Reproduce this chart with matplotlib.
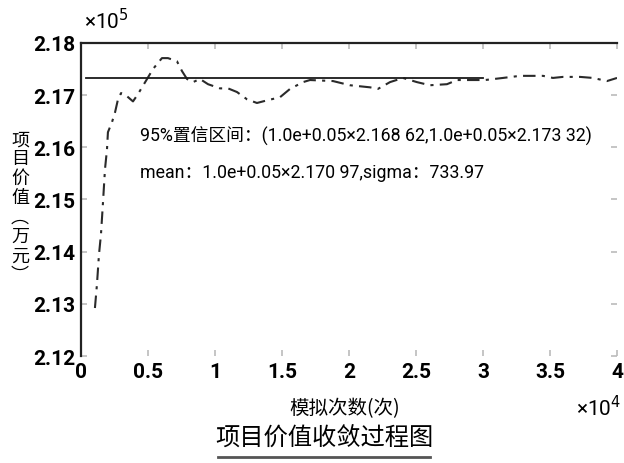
import numpy as np
import matplotlib
matplotlib.use('Agg')
import matplotlib.pyplot as plt

# 模拟次数 与 项目价值(万元) —— 近似值
n_iter = [1040, 1190, 1340, 1490, 1640, 1790, 1940, 2010, 2310, 2540,
          2760, 2990, 3430, 3880, 4250, 4930, 5370, 6040, 6490, 7160,
          7540, 7910, 8360, 8880, 9480, 10370, 10970, 11640, 12390, 13130,
          13880, 14850, 15600, 16570, 17090, 18810, 20070, 21570, 22160, 23060,
          24030, 25070, 26040, 27310, 28060, 30150, 31490, 32760, 34480, 35220,
          35970, 37240, 38210, 39250, 40000]
value = [212920, 213370, 213940, 214330, 214940, 215580, 215960, 216290, 216480, 216670,
         216920, 217040, 216980, 216880, 217020, 217310, 217500, 217710, 217710, 217650,
         217460, 217310, 217250, 217310, 217210, 217130, 217130, 217060, 216920, 216850,
         216900, 216960, 217120, 217250, 217290, 217270, 217190, 217150, 217120, 217250,
         217330, 217250, 217190, 217210, 217290, 217290, 217330, 217370, 217370, 217330,
         217350, 217350, 217330, 217270, 217330]

ref_x = [400, 30000]
ref_y = [217320, 217320]

xticks = [0, 0.5, 1, 1.5, 2, 2.5, 3, 3.5, 4]
xtick_labels = ['0', '0.5', '1', '1.5', '2', '2.5', '3', '3.5', '4']
yticks = [2.12, 2.13, 2.14, 2.15, 2.16, 2.17, 2.18]
ytick_labels = ['2.12', '2.13', '2.14', '2.15', '2.16', '2.17', '2.18']

narrow = ['Roboto', 'Noto Sans CJK SC', 'DejaVu Sans']
cjk = ['Noto Sans CJK SC', 'DejaVu Sans']

fig = plt.figure(figsize=(6.24, 4.64), dpi=100)
ax = fig.add_axes([0.1298, 0.2306, 0.8590, 0.6746])

x = np.array(n_iter) / 1e4
y = np.array(value) / 1e5
ax.plot(x, y, color='#2a2a2a', lw=1.5, linestyle=(0, (6, 3, 1.5, 3)))
ax.plot(np.array(ref_x) / 1e4, np.array(ref_y) / 1e5, color='#1a1a1a', lw=1.3)

ax.set_xlim(0, 4)
ax.set_ylim(2.12, 2.18)
ax.set_xticks(xticks)
ax.set_xticklabels(xtick_labels, family=narrow, fontsize=15, fontweight='bold')
ax.set_yticks(yticks)
ax.set_yticklabels(ytick_labels, family=narrow, fontsize=15, fontweight='bold')

for s in ['left', 'top']:
    ax.spines[s].set_linewidth(1.6)
    ax.spines[s].set_color('#222222')
for s in ['right', 'bottom']:
    ax.spines[s].set_visible(False)
ax.tick_params(direction='in', length=4, width=1.2, top=True, right=True,
               color='#bbbbbb', pad=4)
for t in ax.yaxis.get_major_ticks():
    t.tick1line.set_color('#222222')
for t in ax.xaxis.get_major_ticks():
    t.tick2line.set_color('#444444')

# 标注
ax.text(0.11, 0.706, '95%置信区间：(1.0e+0.05×2.168 62,1.0e+0.05×2.173 32)',
        transform=ax.transAxes, family=narrow, fontsize=12.8, va='center', ha='left')
ax.text(0.11, 0.588, 'mean：1.0e+0.05×2.170 97,sigma：733.97',
        transform=ax.transAxes, family=narrow, fontsize=12.8, va='center', ha='left')

# 倍数
fig.text(84 / 624, 1 - 21 / 464, '×10$^5$', family=narrow, fontsize=15,
         va='center', ha='left')
fig.text(621 / 624, 1 - 408 / 464, '×10$^4$', family=narrow, fontsize=15,
         va='center', ha='right')

# 纵轴标签（竖排）
fig.text(20 / 624, 1 - 208 / 464, '\n'.join('项目价值︵万元︶'), family=cjk,
         fontsize=13, va='center', ha='center', linespacing=1.1)

fig.text(345 / 624, 1 - 409 / 464, '模拟次数(次)', family=cjk, fontsize=14,
         va='center', ha='center')
fig.text(324 / 624, 1 - 438 / 464, '项目价值收敛过程图', family=cjk, fontsize=17.5,
         va='center', ha='center')
fig.add_artist(plt.Line2D([218 / 624, 430 / 624], [1 - 458 / 464, 1 - 458 / 464],
                          color='#555555', lw=2, transform=fig.transFigure))

fig.savefig('out.png', dpi=100)
